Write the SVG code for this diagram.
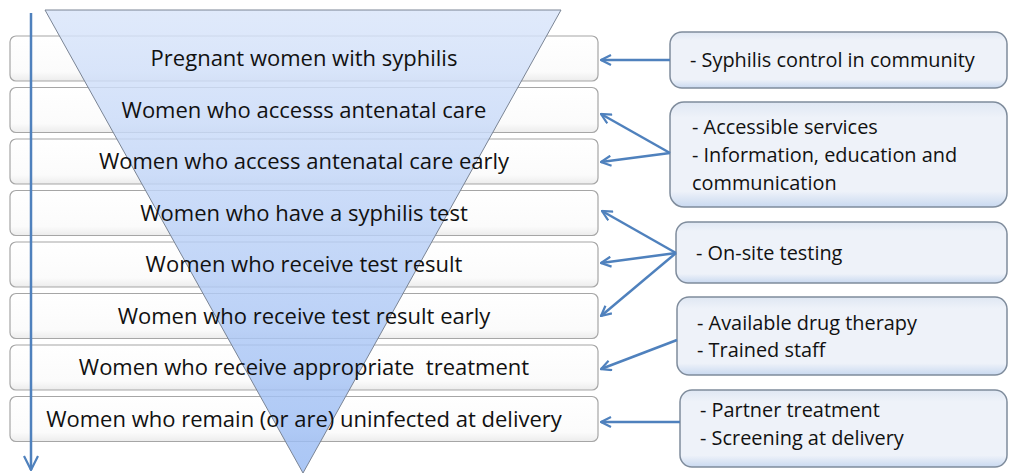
<svg xmlns="http://www.w3.org/2000/svg" width="1013" height="473" viewBox="0 0 1013 473">
<style>
.row{fill:url(#rowg);stroke:#a6a6a6;stroke-width:1.2}
.lt{font-family:"Open Sans","Liberation Sans",Arial,sans-serif;font-size:22px;fill:#111;text-anchor:middle;white-space:pre}
.rb{fill:url(#rbg);stroke:#7f8c9c;stroke-width:1.5}
.rt{font-family:"Open Sans","Liberation Sans",Arial,sans-serif;font-size:19.9px;fill:#111}
.con{stroke:#4f81bd;stroke-width:2.5;fill:none;marker-end:url(#ah)}
</style>
<defs>
<linearGradient id="rowg" x1="0" y1="0" x2="0" y2="1">
<stop offset="0" stop-color="#ffffff"/><stop offset="0.8" stop-color="#fbfbfb"/><stop offset="1" stop-color="#ececec"/>
</linearGradient>
<linearGradient id="rbg" x1="0" y1="0" x2="0" y2="1">
<stop offset="0" stop-color="#dfe7f3"/><stop offset="0.15" stop-color="#eef2f9"/><stop offset="0.85" stop-color="#eef2f9"/><stop offset="1" stop-color="#c9d9f0"/>
</linearGradient>
<linearGradient id="trig" x1="0" y1="0" x2="0" y2="1">
<stop offset="0" stop-color="#d9e5fa"/><stop offset="1" stop-color="#98baf3"/>
</linearGradient>
<marker id="ah" viewBox="0 0 12 12" refX="11" refY="6" markerWidth="12" markerHeight="12" markerUnits="userSpaceOnUse" orient="auto">
<path d="M1,1 L11,6 L1,11" fill="none" stroke="#4f81bd" stroke-width="2.2"/>
</marker>
<marker id="ah2" viewBox="0 0 16 16" refX="15" refY="8" markerWidth="16" markerHeight="16" markerUnits="userSpaceOnUse" orient="auto">
<path d="M1,1 L15,8 L1,15" fill="none" stroke="#4f81bd" stroke-width="2.2"/>
</marker>
</defs>

<g id="rows">
<rect class="row" x="10" y="36" width="588" height="45" rx="6"/>
<rect class="row" x="10" y="87.5" width="588" height="45" rx="6"/>
<rect class="row" x="10" y="139" width="588" height="45" rx="6"/>
<rect class="row" x="10" y="190.5" width="588" height="45" rx="6"/>
<rect class="row" x="10" y="242" width="588" height="45" rx="6"/>
<rect class="row" x="10" y="293.5" width="588" height="45" rx="6"/>
<rect class="row" x="10" y="345" width="588" height="45" rx="6"/>
<rect class="row" x="10" y="396.5" width="588" height="45" rx="6"/>
</g>

<g id="funnel">
<polygon points="45,10 561,10 303,473" fill="url(#trig)" fill-opacity="0.82" stroke="#7a8494" stroke-width="1"/>
</g>

<g id="row-labels">
<text class="lt" x="304" y="66">Pregnant women with syphilis</text>
<text class="lt" x="304" y="117.5">Women who accesss antenatal care</text>
<text class="lt" x="304" y="169">Women who access antenatal care early</text>
<text class="lt" x="304" y="220.5">Women who have a syphilis test</text>
<text class="lt" x="304" y="272">Women who receive test result</text>
<text class="lt" x="304" y="323.5">Women who receive test result early</text>
<text class="lt" x="304" y="375" xml:space="preserve">Women who receive appropriate  treatment</text>
<text class="lt" x="304" y="426.5">Women who remain (or are) uninfected at delivery</text>
</g>

<g id="box-community">
<rect class="rb" x="670" y="32" width="337" height="56" rx="12"/>
<text class="rt" x="690" y="67">- Syphilis control in community</text>
</g>
<g id="box-access">
<rect class="rb" x="670" y="102" width="337" height="105" rx="14"/>
<text class="rt" x="692" y="134">- Accessible services</text>
<text class="rt" x="692" y="162">- Information, education and</text>
<text class="rt" x="692" y="190">communication</text>
</g>
<g id="box-testing">
<rect class="rb" x="676" y="222" width="331" height="61" rx="12"/>
<text class="rt" x="696" y="260">- On-site testing</text>
</g>
<g id="box-drug">
<rect class="rb" x="677" y="297" width="330" height="78" rx="12"/>
<text class="rt" x="697" y="330">- Available drug therapy</text>
<text class="rt" x="697" y="357">- Trained staff</text>
</g>
<g id="box-partner">
<rect class="rb" x="680" y="390" width="327" height="77" rx="12"/>
<text class="rt" x="700" y="417">- Partner treatment</text>
<text class="rt" x="700" y="445">- Screening at delivery</text>
</g>

<g id="connectors">
<line x1="31" y1="13" x2="31" y2="470" stroke="#4f81bd" stroke-width="2.5" marker-end="url(#ah2)"/>
<line class="con" x1="670" y1="60" x2="601" y2="60"/>
<line class="con" x1="670" y1="153" x2="601" y2="114"/>
<line class="con" x1="670" y1="153" x2="601" y2="162"/>
<line class="con" x1="676" y1="253" x2="602" y2="211"/>
<line class="con" x1="676" y1="253" x2="601" y2="263"/>
<line class="con" x1="676" y1="253" x2="601" y2="316"/>
<line class="con" x1="677" y1="340" x2="601" y2="369"/>
<line class="con" x1="680" y1="422" x2="601" y2="422"/>
</g>
</svg>
